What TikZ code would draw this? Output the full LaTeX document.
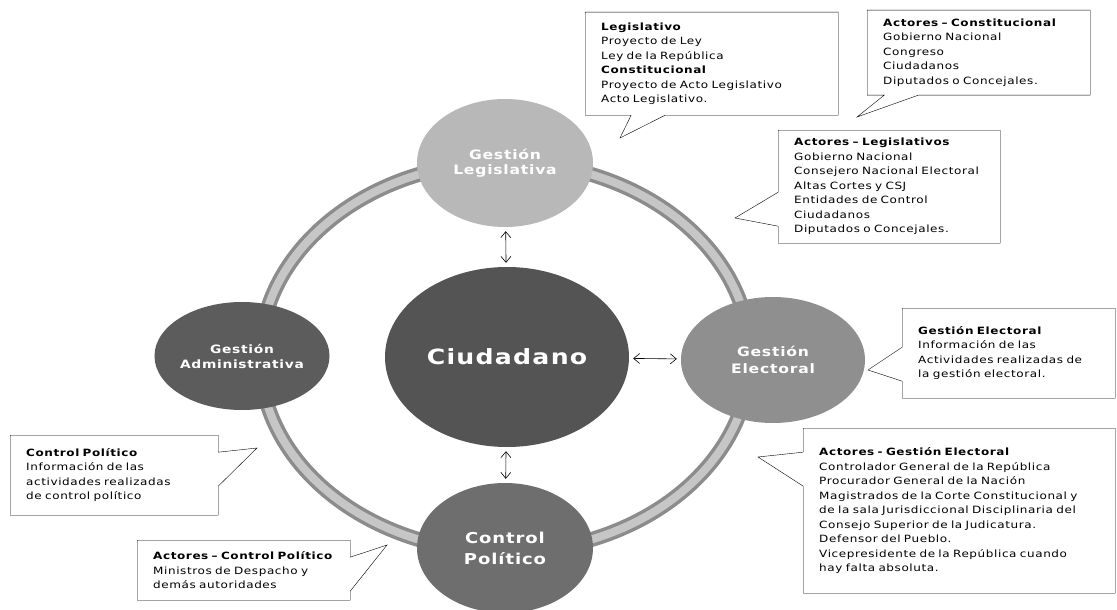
\documentclass[tikz,border=0pt]{standalone}
\usepackage{fontspec}
\setmainfont{DejaVu Sans}[FakeStretch=1.2,LetterSpace=6]
\usetikzlibrary{shapes.geometric, shapes.callouts, arrows.meta}
\definecolor{grisciudadano}{gray}{0.33}
\definecolor{grisadmin}{gray}{0.36}
\definecolor{griscontrol}{gray}{0.43}
\definecolor{griselectoral}{gray}{0.56}
\definecolor{grislegislativa}{gray}{0.72}
\definecolor{grisanillo}{gray}{0.55}
\tikzset{
  gestion/.style={ellipse, inner sep=0pt, text=white, align=center, font=\bfseries},
  nota/.style={rectangle callout, draw=black, fill=white, anchor=north west, align=left,
    inner xsep=16pt, font=\fontsize{10}{14.5}\selectfont, callout pointer width=34pt},
  enlace/.style={{Straight Barb[length=6pt,width=10pt]}-{Straight Barb[length=6pt,width=10pt]},
    semithick, shorten >=4pt, shorten <=4pt}
}

\begin{document}
\begin{tikzpicture}[x=1pt,y=-1pt]
\useasboundingbox[fill=white] (0,0) rectangle (1117,610);

\coordinate (centro) at (505,357);
\draw[line width=15pt, grisanillo] (centro) ellipse [x radius=245, y radius=195];
\draw[line width=8pt, gray!45] (centro) ellipse [x radius=245, y radius=195];

\node[gestion, fill=grislegislativa, minimum width=176, minimum height=128, font=\bfseries\fontsize{13}{15}\selectfont] (leg) at (505,163) {Gestión\\Legislativa};
\node[gestion, fill=grisadmin, minimum width=170, minimum height=108, font=\bfseries\fontsize{11.5}{15}\selectfont] (adm) at (242,356) {Gestión\\Administrativa};
\node[gestion, fill=griselectoral, minimum width=184, minimum height=126, font=\bfseries\fontsize{13}{17}\selectfont] (ele) at (773,360) {Gestión\\Electoral};
\node[gestion, fill=griscontrol, minimum width=176, minimum height=130, font=\bfseries\fontsize{15}{21}\selectfont] (cpo) at (505,548) {Control\\Político};
\node[gestion, fill=grisciudadano, minimum width=244, minimum height=180, font=\bfseries\fontsize{21}{25}\selectfont] (ciu) at (507,357) {Ciudadano};

\draw[enlace] (leg) -- (ciu);
\draw[enlace] (ciu) -- (ele);
\draw[enlace] (ciu) -- (cpo);

\coordinate (p1) at (620,138);
\coordinate (p2) at (857,117);
\coordinate (p3) at (735,218);
\coordinate (p4) at (868,370);
\coordinate (p5) at (758,457);
\coordinate (p6) at (257,448);
\coordinate (p7) at (387,545);

\node[nota, callout absolute pointer=(p1), text width=221, minimum width=253, minimum height=103] (n1) at (585,12)
  {\textbf{Legislativo}\\Proyecto de Ley\\Ley de la República\\\textbf{Constitucional}\\Proyecto de Acto Legislativo\\Acto Legislativo.};
\node[nota, callout absolute pointer=(p2), text width=191, minimum width=223, minimum height=85] (n2) at (867,10)
  {\textbf{Actores – Constitucional}\\Gobierno Nacional\\Congreso\\Ciudadanos\\Diputados o Concejales.};
\node[nota, callout absolute pointer=(p3), text width=190, minimum width=222, minimum height=113] (n3) at (778,130)
  {\textbf{Actores – Legislativos}\\Gobierno Nacional\\Consejero Nacional Electoral\\Altas Cortes y CSJ\\Entidades de Control\\Ciudadanos\\Diputados o Concejales.};
\node[nota, callout absolute pointer=(p4), text width=181, minimum width=213, minimum height=90] (n4) at (902,308)
  {\textbf{Gestión Electoral}\\Información de las\\Actividades realizadas de\\la gestión electoral.};
\node[nota, callout absolute pointer=(p5), text width=280, minimum width=312, minimum height=165] (n5) at (803,428)
  {\textbf{Actores - Gestión Electoral}\\Controlador General de la República\\Procurador General de la Nación\\Magistrados de la Corte Constitucional y\\de la sala Jurisdiccional Disciplinaria del\\Consejo Superior de la Judicatura.\\Defensor del Pueblo.\\Vicepresidente de la República cuando\\hay falta absoluta.};
\node[nota, callout absolute pointer=(p6), text width=176, minimum width=208, minimum height=80] (n6) at (10,435)
  {\textbf{Control Político}\\Información de las\\actividades realizadas\\de control político};
\node[nota, callout absolute pointer=(p7), text width=181, minimum width=213, minimum height=60] (n7) at (137,540)
  {\textbf{Actores – Control Político}\\Ministros de Despacho y\\demás autoridades};
\end{tikzpicture}
\end{document}
